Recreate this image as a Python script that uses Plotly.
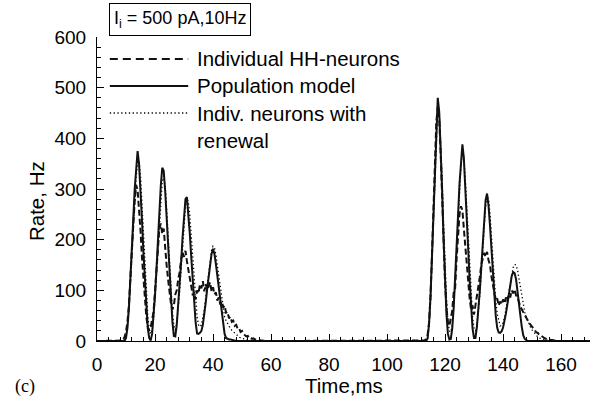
import plotly.graph_objects as go

# ---------------- data ----------------
# time grids (ms) for the two bursts
t_burst1 = [8.0, 8.5, 9.0, 9.5, 10.0, 10.5, 11.0, 11.5, 12.0, 12.5,
            13.0, 13.5, 14.0, 14.5, 15.0, 15.5, 16.0, 16.5, 17.0, 17.5,
            18.0, 18.5, 19.0, 19.5, 20.0, 20.5, 21.0, 21.5, 22.0, 22.5,
            23.0, 23.5, 24.0, 24.5, 25.0, 25.5, 26.0, 26.5, 27.0, 27.5,
            28.0, 28.5, 29.0, 29.5, 30.0, 30.5, 31.0, 31.5, 32.0, 32.5,
            33.0, 33.5, 34.0, 34.5, 35.0, 35.5, 36.0, 36.5, 37.0, 37.5,
            38.0, 38.5, 39.0, 39.5, 40.0, 40.5, 41.0, 41.5, 42.0, 42.5,
            43.0, 43.5, 44.0, 44.5, 45.0, 45.5, 46.0, 46.5, 47.0, 47.5,
            48.0, 48.5, 49.0, 49.5, 50.0, 50.5, 51.0, 51.5, 52.0, 52.5,
            53.0, 53.5, 54.0, 54.5, 55.0, 55.5, 56.0, 56.5, 57.0, 57.5,
            58.0, 58.5, 59.0, 59.5, 60.0]
t_burst2 = [112.0, 112.5, 113.0, 113.5, 114.0, 114.5, 115.0, 115.5, 116.0, 116.5,
            117.0, 117.5, 118.0, 118.5, 119.0, 119.5, 120.0, 120.5, 121.0, 121.5,
            122.0, 122.5, 123.0, 123.5, 124.0, 124.5, 125.0, 125.5, 126.0, 126.5,
            127.0, 127.5, 128.0, 128.5, 129.0, 129.5, 130.0, 130.5, 131.0, 131.5,
            132.0, 132.5, 133.0, 133.5, 134.0, 134.5, 135.0, 135.5, 136.0, 136.5,
            137.0, 137.5, 138.0, 138.5, 139.0, 139.5, 140.0, 140.5, 141.0, 141.5,
            142.0, 142.5, 143.0, 143.5, 144.0, 144.5, 145.0, 145.5, 146.0, 146.5,
            147.0, 147.5, 148.0, 148.5, 149.0, 149.5, 150.0, 150.5, 151.0, 151.5,
            152.0, 152.5, 153.0, 153.5, 154.0, 154.5, 155.0, 155.5, 156.0, 156.5,
            157.0, 157.5, 158.0, 158.5, 159.0, 159.5, 160.0]
t_start = [0.0]
t_end = [170.0]

# Individual HH-neurons (dashed), Hz
hh_burst1 = [0, 1, 3, 8, 18, 38, 70, 115, 170, 228,
             276, 308, 298, 262, 218, 166, 120, 78, 48, 28,
             20, 26, 44, 58, 98, 142, 186, 222, 232, 212,
             222, 180, 150, 122, 92, 74, 62, 70, 92, 100,
             122, 136, 160, 176, 166, 178, 158, 136, 124, 108,
             90, 96, 82, 100, 94, 112, 104, 118, 98, 112,
             100, 108, 116, 98, 106, 92, 96, 80, 86, 72,
             78, 66, 70, 56, 58, 45, 48, 38, 40, 30,
             32, 24, 25, 18, 20, 14, 12, 9, 10, 6,
             7, 4, 5, 3, 3, 2, 2, 1, 1, 0,
             0, 0, 0, 0, 0]
hh_burst2 = [0, 0, 1, 4, 12, 36, 88, 168, 262, 356,
             432, 462, 440, 372, 280, 190, 118, 66, 38, 30,
             42, 60, 96, 104, 162, 212, 250, 266, 258, 222,
             188, 142, 112, 84, 62, 70, 52, 70, 82, 104,
             126, 150, 164, 174, 166, 176, 160, 150, 128, 112,
             94, 80, 84, 70, 78, 72, 82, 74, 86, 78,
             92, 86, 100, 94, 102, 90, 86, 76, 68, 62,
             56, 50, 46, 41, 36, 32, 28, 24, 22, 17,
             16, 12, 11, 8, 7, 5, 4, 3, 3, 2,
             2, 1, 1, 0, 0, 0, 0]

# Population model (solid), Hz
pop_burst1 = [0, 0, 0, 0, 6, 26, 64, 116, 176, 240,
              300, 349, 375, 349, 300, 240, 176, 116, 64, 26,
              6, 1, 14, 45, 90, 141, 200, 255, 307, 342,
              336, 297, 245, 186, 131, 83, 38, 10, 9, 32,
              69, 109, 155, 204, 247, 280, 284, 255, 212, 166,
              118, 75, 37, 15, 14, 16, 20, 32, 52, 76,
              103, 128, 152, 172, 182, 172, 152, 128, 103, 76,
              52, 30, 14, 6, 4, 3, 3, 2, 2, 1,
              0, 0, 0, 0, 0, 0, 0, 0, 0, 0,
              0, 0, 0, 0, 0, 0, 0, 0, 0, 0,
              0, 0, 0, 0, 0]
pop_burst2 = [0, 0, 0, 0, 5, 34, 87, 169, 255, 352,
              434, 480, 453, 385, 299, 202, 120, 53, 14, 3,
              4, 25, 66, 120, 182, 248, 310, 361, 388, 361,
              310, 248, 182, 120, 66, 25, 6, 6, 28, 58,
              99, 144, 192, 240, 278, 291, 268, 229, 183, 134,
              88, 50, 26, 17, 16, 19, 26, 38, 54, 72,
              92, 112, 128, 136, 134, 122, 101, 76, 50, 27,
              11, 4, 1, 0, 0, 0, 0, 0, 0, 0,
              0, 0, 0, 0, 0, 0, 0, 0, 0, 0,
              0, 0, 0, 0, 0, 0, 0]

# Individual neurons with renewal (dotted), Hz
ren_burst1 = [0, 0, 1, 3, 10, 30, 66, 112, 165, 222,
              277, 323, 352, 356, 326, 275, 214, 152, 96, 52,
              24, 14, 20, 44, 82, 128, 180, 232, 280, 315,
              326, 306, 262, 206, 150, 100, 58, 30, 22, 34,
              62, 98, 140, 186, 230, 264, 281, 275, 248, 206,
              160, 115, 76, 48, 32, 28, 32, 44, 62, 86,
              112, 138, 162, 179, 187, 184, 170, 150, 126, 102,
              80, 62, 48, 40, 34, 29, 25, 21, 18, 15,
              12, 10, 8, 6, 5, 4, 3, 3, 2, 2,
              1, 1, 0, 0, 0, 0, 0, 0, 0, 0,
              0, 0, 0, 0, 0]
ren_burst2 = [0, 0, 0, 1, 6, 30, 78, 152, 236, 330,
              412, 462, 458, 405, 325, 235, 150, 84, 40, 20,
              18, 32, 64, 112, 172, 236, 298, 346, 372, 362,
              320, 262, 198, 138, 86, 48, 26, 20, 30, 54,
              90, 134, 182, 228, 266, 286, 280, 252, 210, 162,
              116, 80, 54, 38, 30, 30, 36, 46, 60, 78,
              97, 116, 133, 145, 151, 150, 140, 122, 102, 84,
              68, 57, 48, 40, 33, 27, 22, 18, 14, 10,
              8, 6, 5, 4, 3, 2, 1, 1, 0, 0,
              0, 0, 0, 0, 0, 0, 0]

# text
series_names = ["Individual HH-neurons", "Population model",
                "Indiv. neurons with", "renewal"]
x_title = "Time,ms"
y_title = "Rate, Hz"
box_label = "I<sub>i</sub> = 500 pA,10Hz"
panel_label = "(c)"

# ---------------- figure ----------------
FONT = "Liberation Sans, Arial, Helvetica, sans-serif"
t_all = t_start + t_burst1 + t_burst2 + t_end

def full(a, b):
    return [0] + a + b + [0]

DOT = dict(color="#000", width=1.3, dash="1.3px,2.5px")
DASH = dict(color="#111", width=2, dash="6px,3px")
SOLID = dict(color="#111", width=2)

fig = go.Figure()
fig.add_trace(go.Scatter(x=t_all, y=full(ren_burst1, ren_burst2), mode="lines",
                         line=DOT, showlegend=False, hoverinfo="skip"))
fig.add_trace(go.Scatter(x=t_all, y=full(hh_burst1, hh_burst2), mode="lines",
                         line=DASH, showlegend=False, hoverinfo="skip"))
fig.add_trace(go.Scatter(x=t_all, y=full(pop_burst1, pop_burst2), mode="lines",
                         line=SOLID, showlegend=False, hoverinfo="skip"))

axis_common = dict(
    showline=True, linecolor="black", linewidth=1,
    ticks="inside", ticklen=7, tickwidth=1, tickcolor="black",
    showgrid=False, zeroline=False,
    tickfont=dict(family=FONT, size=19, color="black"),
    ticklabelstandoff=6,
)
fig.update_xaxes(range=[0, 170], tick0=0, dtick=20,
                 minor=dict(ticks="inside", ticklen=4, dtick=4, tickcolor="black", showgrid=False),
                 **axis_common)
fig.update_yaxes(range=[0, 600], tick0=0, dtick=100,
                 minor=dict(ticks="inside", ticklen=4, dtick=20, tickcolor="black", showgrid=False),
                 **axis_common)

# manual legend
leg_x0, leg_x1, leg_tx = 0.026, 0.185, 0.199
leg_rows = [0.928, 0.839, 0.750]
leg_styles = [dict(color="#111", width=2, dash="8px,5px"), SOLID, DOT]
shapes = []
for yy, st in zip(leg_rows, leg_styles):
    shapes.append(dict(type="line", xref="paper", yref="paper",
                       x0=leg_x0, x1=leg_x1, y0=yy, y1=yy, line=st))
annotations = []
for yy, txt in zip(leg_rows + [0.661], series_names):
    annotations.append(dict(xref="paper", yref="paper", x=leg_tx, y=yy,
                            xanchor="left", yanchor="middle", text=txt,
                            showarrow=False,
                            font=dict(family=FONT, size=20.5, color="black")))
annotations += [
    dict(xref="paper", yref="paper", x=0.168, y=1.059, xanchor="center", yanchor="middle",
         text=box_label, showarrow=False, bordercolor="black", borderwidth=1,
         borderpad=4, bgcolor="white",
         font=dict(family=FONT, size=18, color="black")),
    dict(xref="paper", yref="paper", x=0.5, y=-0.145, xanchor="center", yanchor="middle",
         text=x_title, showarrow=False, font=dict(family=FONT, size=20.5, color="black")),
    dict(xref="paper", yref="paper", x=-0.124, y=0.46, xanchor="center", yanchor="middle",
         text=y_title, textangle=-90, showarrow=False,
         font=dict(family=FONT, size=20.5, color="black")),
    dict(xref="paper", yref="paper", x=-0.146, y=-0.15, xanchor="center", yanchor="middle",
         text=panel_label, showarrow=False,
         font=dict(family="Liberation Serif, Times New Roman, serif", size=18, color="black")),
]

fig.update_layout(width=598, height=405,
                  margin=dict(l=97, r=8, t=37, b=64),
                  paper_bgcolor="white", plot_bgcolor="white",
                  shapes=shapes, annotations=annotations, showlegend=False)

fig.write_html("out.html")
